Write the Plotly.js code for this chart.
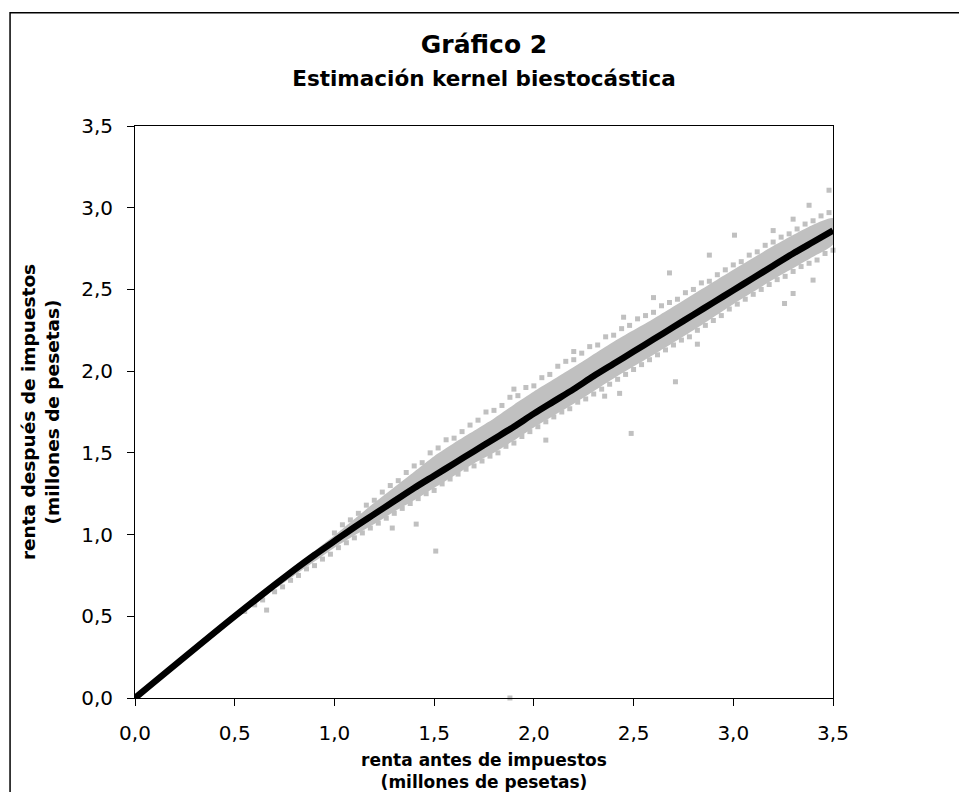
<!DOCTYPE html>
<html>
<head>
<meta charset="utf-8">
<script src="https://cdn.plot.ly/plotly-3.0.1.min.js"></script>
<style>html,body{margin:0;padding:0;background:#fff;}</style>
</head>
<body>
<div id="chart" style="width:959px;height:792px;"></div>
<script>
// ---- data ----
const xTicks = [0, 0.5, 1, 1.5, 2, 2.5, 3, 3.5];
const xTickLabels = ["0,0", "0,5", "1,0", "1,5", "2,0", "2,5", "3,0", "3,5"];
const yTicks = [0, 0.5, 1, 1.5, 2, 2.5, 3, 3.5];
const yTickLabels = ["0,0", "0,5", "1,0", "1,5", "2,0", "2,5", "3,0", "3,5"];

// kernel estimate (black curve)
const kernelX = [0, 0.5, 0.8, 0.9, 1.0, 1.1, 1.2, 1.3, 1.4, 1.5, 1.6, 1.7, 1.8, 1.9, 2.0, 2.1, 2.2, 2.3, 2.4, 2.5, 2.6, 2.7, 2.8, 2.9, 3.0, 3.1, 3.2, 3.3, 3.4, 3.5];
const kernelY = [0, 0.50, 0.785, 0.875, 0.96, 1.045, 1.125, 1.205, 1.285, 1.36, 1.435, 1.51, 1.585, 1.66, 1.74, 1.815, 1.89, 1.97, 2.045, 2.12, 2.195, 2.27, 2.345, 2.42, 2.495, 2.57, 2.645, 2.72, 2.79, 2.86];

// dense core of the observation cloud (upper / lower edges)
const coreX     = [0.5, 0.7, 0.9, 1.0, 1.1, 1.2, 1.3, 1.4, 1.5, 1.6, 1.7, 1.8, 1.9, 2.0, 2.2, 2.4, 2.6, 2.8, 3.0, 3.2, 3.4, 3.5];
const coreUpper = [0.50, 0.70, 0.90, 0.995, 1.095, 1.195, 1.29, 1.385, 1.48, 1.56, 1.635, 1.71, 1.795, 1.875, 2.025, 2.18, 2.32, 2.47, 2.62, 2.765, 2.895, 2.935];
const coreLower = [0.50, 0.665, 0.835, 0.92, 0.995, 1.065, 1.14, 1.21, 1.285, 1.36, 1.435, 1.50, 1.575, 1.655, 1.80, 1.955, 2.10, 2.25, 2.41, 2.56, 2.70, 2.775];

// scattered observations above the dense core
const upperObsX = [1.00, 1.04, 1.08, 1.12, 1.16, 1.20, 1.24, 1.28, 1.32, 1.36,
  1.40, 1.44, 1.48, 1.52, 1.56, 1.60, 1.64, 1.68, 1.72, 1.76,
  1.80, 1.84, 1.88, 1.92, 1.96, 2.00, 2.04, 2.08, 2.12, 2.16,
  2.20, 2.24, 2.28, 2.32, 2.36, 2.40, 2.44, 2.48, 2.52, 2.56,
  2.60, 2.64, 2.68, 2.72, 2.76, 2.80, 2.84, 2.88, 2.92, 2.96,
  3.00, 3.04, 3.08, 3.12, 3.16, 3.20, 3.24, 3.28, 3.32, 3.36,
  3.40, 3.44, 3.48, 2.68, 2.88, 3.006, 3.38, 3.48, 2.45, 2.20,
  1.90, 2.60, 3.20, 3.30];
const upperObsY = [1.01, 1.06, 1.09, 1.13, 1.18, 1.21, 1.26, 1.30, 1.33, 1.38,
  1.42, 1.44, 1.50, 1.53, 1.58, 1.59, 1.63, 1.67, 1.70, 1.75,
  1.76, 1.79, 1.84, 1.85, 1.90, 1.91, 1.96, 1.98, 2.03, 2.06,
  2.07, 2.11, 2.15, 2.16, 2.21, 2.22, 2.26, 2.28, 2.32, 2.34,
  2.36, 2.40, 2.42, 2.44, 2.48, 2.50, 2.54, 2.55, 2.59, 2.62,
  2.65, 2.67, 2.71, 2.73, 2.77, 2.79, 2.82, 2.84, 2.87, 2.90,
  2.92, 2.95, 2.97, 2.601, 2.71, 2.832, 3.015, 3.107, 2.33, 2.12,
  1.89, 2.45, 2.86, 2.93];

// scattered observations below the dense core
const lowerObsX = [0.55, 0.60, 0.64, 0.66, 0.70, 0.74, 0.78, 0.82, 0.86, 0.90,
  0.94, 0.98, 1.02, 1.06, 1.10, 1.14, 1.18, 1.22, 1.26, 1.29,
  1.30, 1.34, 1.38, 1.41, 1.42, 1.46, 1.50, 1.508, 1.54, 1.58,
  1.62, 1.66, 1.70, 1.74, 1.78, 1.82, 1.86, 1.90, 1.94, 1.98,
  2.02, 2.06, 2.06, 2.10, 2.14, 2.18, 2.22, 2.26, 2.30, 2.355,
  2.34, 2.38, 2.43, 2.42, 2.46, 2.488, 2.50, 2.54, 2.58, 2.62,
  2.66, 2.71, 2.70, 2.74, 2.78, 2.82, 2.82, 2.86, 2.90, 2.94,
  2.98, 3.02, 3.06, 3.10, 3.14, 3.18, 3.22, 3.257, 3.26, 3.30,
  3.30, 3.34, 3.38, 3.40, 3.42, 3.46, 3.50, 1.88];
const lowerObsY = [0.53, 0.57, 0.60, 0.538, 0.65, 0.68, 0.72, 0.75, 0.79, 0.81,
  0.85, 0.88, 0.92, 0.95, 0.98, 1.01, 1.04, 1.07, 1.10, 1.04,
  1.13, 1.16, 1.19, 1.064, 1.22, 1.25, 1.27, 0.899, 1.31, 1.34,
  1.37, 1.40, 1.42, 1.45, 1.48, 1.50, 1.54, 1.56, 1.60, 1.63,
  1.66, 1.578, 1.69, 1.72, 1.75, 1.77, 1.81, 1.83, 1.86, 1.847,
  1.89, 1.92, 1.864, 1.95, 1.98, 1.619, 2.01, 2.04, 2.07, 2.10,
  2.13, 1.935, 2.16, 2.19, 2.21, 2.165, 2.25, 2.28, 2.31, 2.34,
  2.38, 2.41, 2.44, 2.47, 2.50, 2.53, 2.56, 2.414, 2.58, 2.475,
  2.61, 2.64, 2.66, 2.557, 2.68, 2.72, 2.74, 0.0];

// ---- traces ----
const grey = "#c0c0c0";
const dotStyle = {symbol: "square", size: 5, color: grey};
const traces = [
  {
    x: coreX.concat(coreX.slice().reverse()),
    y: coreUpper.concat(coreLower.slice().reverse()),
    type: "scatter", mode: "lines", fill: "toself",
    fillcolor: grey, line: {width: 0, color: grey, shape: "spline", smoothing: 0.6},
    hoverinfo: "skip", showlegend: false
  },
  {x: upperObsX, y: upperObsY, type: "scatter", mode: "markers", marker: dotStyle, showlegend: false, cliponaxis: false},
  {x: lowerObsX, y: lowerObsY, type: "scatter", mode: "markers", marker: dotStyle, showlegend: false, cliponaxis: false},
  {
    x: kernelX, y: kernelY, type: "scatter", mode: "lines",
    line: {color: "#000000", width: 6.5, shape: "spline", smoothing: 0.8},
    showlegend: false
  }
];

const tickFont = {family: "DejaVu Sans", size: 20, color: "#000"};
const xTitleFont = {family: "DejaVu Sans", size: 17, color: "#000", weight: "bold"};
const yTitleFont = {family: "DejaVu Sans", size: 18.5, color: "#000", weight: "bold"};

const layout = {
  width: 959, height: 792,
  margin: {l: 135, r: 126, t: 126, b: 94, pad: 0},
  paper_bgcolor: "#fff", plot_bgcolor: "#fff",
  showlegend: false,
  title: {
    text: "Gráfico 2<br><span style=\"font-size:21.5px\">Estimación kernel biestocástica</span>",
    font: {family: "DejaVu Sans", size: 25, color: "#000", weight: "bold"},
    x: 0.5, xref: "paper", xanchor: "center",
    y: 0.933, yref: "container", yanchor: "top"
  },
  xaxis: {
    range: [0, 3.5], tickvals: xTicks, ticktext: xTickLabels,
    ticks: "outside", ticklen: 7, tickwidth: 1, tickcolor: "#000",
    showline: true, linecolor: "#000", linewidth: 1, mirror: true,
    showgrid: false, zeroline: false, tickfont: tickFont,
    ticklabelstandoff: 10, automargin: false,
    title: {text: "renta antes de impuestos<br>(millones de pesetas)", font: xTitleFont, standoff: 12}
  },
  yaxis: {
    range: [0, 3.5], tickvals: yTicks, ticktext: yTickLabels,
    ticks: "outside", ticklen: 7, tickwidth: 1, tickcolor: "#000",
    showline: true, linecolor: "#000", linewidth: 1, mirror: true,
    showgrid: false, zeroline: false, tickfont: tickFont,
    ticklabelstandoff: 10, automargin: false,
    title: {text: "renta después de impuestos<br>(millones de pesetas)", font: yTitleFont, standoff: 16}
  },
  shapes: [{
    type: "rect", xref: "paper", yref: "paper",
    x0: -0.179, x1: 1.2, y0: -0.2, y1: 1.198,
    line: {color: "#000", width: 1.5}, fillcolor: "rgba(0,0,0,0)", layer: "above"
  }]
};

Plotly.newPlot("chart", traces, layout, {displayModeBar: false, staticPlot: true});
</script>
</body>
</html>
